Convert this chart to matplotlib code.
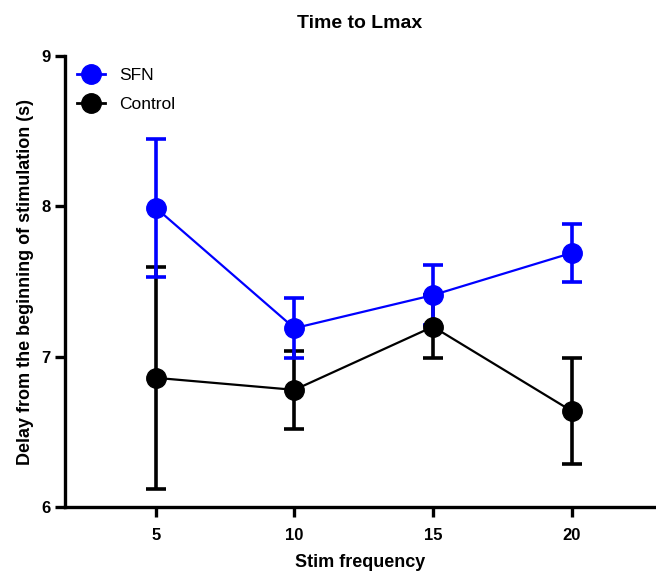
import matplotlib.pyplot as plt
from matplotlib.lines import Line2D

plt.rcParams['font.family'] = ['Liberation Sans', 'DejaVu Sans']

freq = [5, 10, 15, 20]
sfn_mean = [7.99, 7.19, 7.41, 7.69]
sfn_err = [0.46, 0.20, 0.20, 0.19]
ctrl_mean = [6.86, 6.78, 7.20, 6.64]
ctrl_err = [0.74, 0.26, 0.21, 0.35]

blue = "#0000ff"

fig = plt.figure(figsize=(6.56, 5.77), dpi=100)
ax = fig.add_axes([0.099, 0.121, 0.899, 0.782])

ax.errorbar(freq, ctrl_mean, yerr=ctrl_err, color="black", marker="o", markersize=14,
            linewidth=1.6, elinewidth=2.6, capsize=7, capthick=2.6)
ax.errorbar(freq, sfn_mean, yerr=sfn_err, color=blue, marker="o", markersize=14,
            linewidth=1.6, elinewidth=2.6, capsize=7, capthick=2.6)

ax.set_xlim(1.72, 23)
ax.set_ylim(6, 9)
ax.set_xticks(freq)
ax.set_yticks([6, 7, 8, 9])

ax.spines["top"].set_visible(False)
ax.spines["right"].set_visible(False)
ax.spines["left"].set_linewidth(2.4)
ax.spines["bottom"].set_linewidth(2.4)
ax.tick_params(width=2.4, length=7, labelsize=12)
ax.tick_params(axis="x", pad=8)
for lbl in ax.get_xticklabels() + ax.get_yticklabels():
    lbl.set_fontweight("bold")

ax.set_title("Time to Lmax", fontsize=14, fontweight="bold", pad=20)
ax.set_xlabel("Stim frequency", fontsize=13, fontweight="bold", labelpad=8)
ax.set_ylabel("Delay from the beginning of stimulation (s)", fontsize=13, fontweight="bold",
              labelpad=5)

handles = [Line2D([], [], color=blue, marker="o", markersize=14, linewidth=2),
           Line2D([], [], color="black", marker="o", markersize=14, linewidth=2)]
ax.legend(handles, ["SFN", "Control"], loc="upper left", frameon=False, fontsize=12.5,
          handlelength=1.6, labelspacing=0.8, borderaxespad=0.3, bbox_to_anchor=(0.0, 1.0))

fig.savefig("out.png", dpi=100)
